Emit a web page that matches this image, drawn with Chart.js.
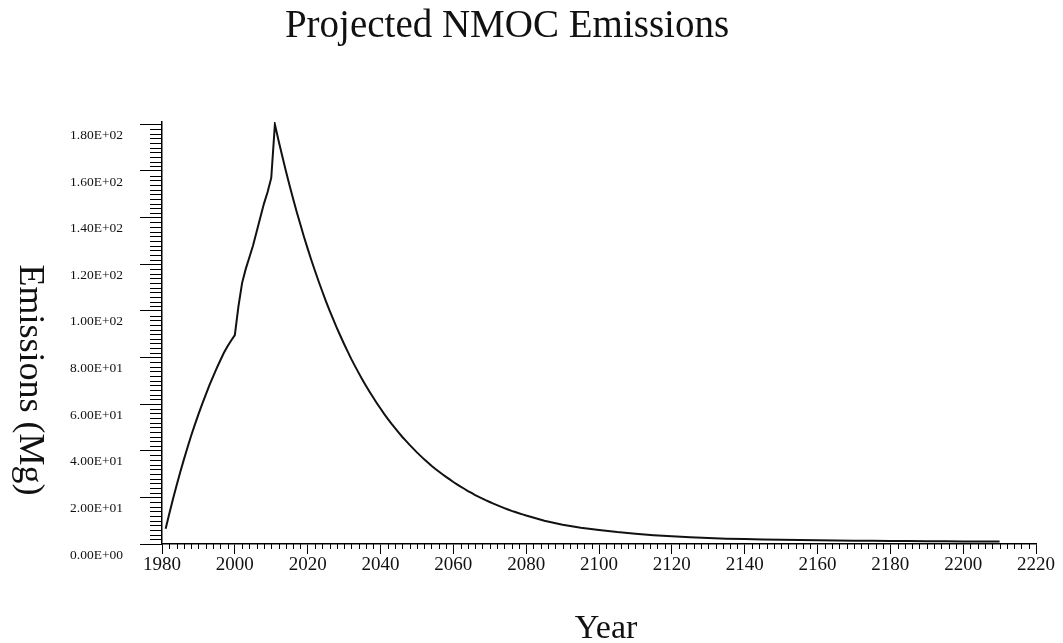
<!DOCTYPE html>
<html>
<head>
<meta charset="utf-8">
<script src="https://cdn.jsdelivr.net/npm/chart.js@4/dist/chart.umd.min.js"></script>
<style>
  html, body { margin: 0; padding: 0; background: #ffffff; }
  #wrap { width: 1063px; height: 643px; }
</style>
</head>
<body>
<div id="wrap"><canvas id="chart" width="1063" height="643"></canvas></div>
<script>
// Headings
const chartTitle = 'Projected NMOC Emissions';
const xAxisTitle = 'Year';
const yAxisTitle = 'Emissions (Mg)';

// Years with a projected value
const years = [
  1981, 1982, 1983, 1984, 1985, 1986, 1987, 1988, 1989, 1990,
  1991, 1992, 1993, 1994, 1995, 1996, 1997, 1998, 1999, 2000,
  2001, 2002, 2003, 2004, 2005, 2006, 2007, 2008, 2009, 2010,
  2011, 2012, 2013, 2014, 2015, 2016, 2017, 2018, 2019, 2020,
  2021, 2022, 2023, 2024, 2025, 2026, 2027, 2028, 2029, 2030,
  2031, 2032, 2033, 2034, 2035, 2036, 2037, 2038, 2039, 2040,
  2041, 2042, 2043, 2044, 2045, 2046, 2047, 2048, 2049, 2050,
  2051, 2052, 2053, 2054, 2055, 2056, 2057, 2058, 2059, 2060,
  2061, 2062, 2063, 2064, 2065, 2066, 2067, 2068, 2069, 2070,
  2071, 2072, 2073, 2074, 2075, 2076, 2077, 2078, 2079, 2080,
  2085, 2090, 2095, 2100, 2105, 2110, 2115, 2120, 2125, 2130,
  2135, 2140, 2145, 2150, 2155, 2160, 2165, 2170, 2175, 2180,
  2185, 2190, 2195, 2200, 2205, 2210
];

// NMOC emissions in Mg per year
const emissions = [
  6.5, 13.0, 19.2, 25.1, 30.8, 36.2, 41.4, 46.4, 51.1, 55.6,
  59.9, 64.0, 68.0, 71.7, 75.3, 78.7, 82.0, 84.8, 87.3, 89.6,
  102.0, 112.0, 118.0, 123.0, 128.0, 134.0, 140.0, 146.0, 151.0, 157.0,
  180.0, 173.1, 166.5, 160.1, 154.0, 148.1, 142.4, 137.0, 131.7, 126.7,
  121.8, 117.2, 112.7, 108.4, 104.2, 100.2, 96.4, 92.7, 89.2, 85.8,
  82.5, 79.3, 76.3, 73.4, 70.6, 67.9, 65.3, 62.8, 60.4, 58.1,
  55.8, 53.7, 51.6, 49.7, 47.8, 45.9, 44.2, 42.5, 40.9, 39.3,
  37.8, 36.3, 35.0, 33.6, 32.3, 31.1, 29.9, 28.8, 27.7, 26.6,
  25.6, 24.6, 23.7, 22.7, 21.9, 21.0, 20.2, 19.5, 18.7, 18.0,
  17.3, 16.7, 16.0, 15.4, 14.8, 14.2, 13.7, 13.2, 12.7, 12.2,
  10.0, 8.3, 7.0, 6.0, 5.1, 4.4, 3.8, 3.3, 2.9, 2.6,
  2.3, 2.1, 1.9, 1.8, 1.7, 1.6, 1.5, 1.4, 1.4, 1.3,
  1.3, 1.2, 1.2, 1.1, 1.1, 1.1
];

// Labelled (major) tick values
const xTickValues = [1980, 2000, 2020, 2040, 2060, 2080, 2100, 2120, 2140, 2160, 2180, 2200, 2220];
const yTickValues = [0, 20, 40, 60, 80, 100, 120, 140, 160, 180];

// Spacing of the unlabelled minor ticks
const xMinorStep = 2;
const yMinorStep = 2;

const xMin = 1980, xMax = 2220;
const yMin = 0, yMax = 181;

function sci(v) {
  const parts = v.toExponential(2).split('e');
  const e = parseInt(parts[1], 10);
  return parts[0] + 'E' + (e < 0 ? '-' : '+') + String(Math.abs(e)).padStart(2, '0');
}

// Short unlabelled ticks between the labelled ones
const minorTicks = {
  id: 'minorTicks',
  afterDraw(chart) {
    const { ctx, chartArea } = chart;
    const xs = chart.scales.x, ys = chart.scales.y;
    ctx.save();
    ctx.strokeStyle = '#000';
    ctx.lineWidth = 1;
    ctx.beginPath();
    for (let v = yMin; v <= 180; v += yMinorStep) {
      if (yTickValues.includes(v)) continue;
      const py = Math.round(ys.getPixelForValue(v)) + 0.5;
      ctx.moveTo(chartArea.left - 12, py);
      ctx.lineTo(chartArea.left, py);
    }
    for (let v = xMin; v <= xMax; v += xMinorStep) {
      if (xTickValues.includes(v)) continue;
      const px = Math.round(xs.getPixelForValue(v)) + 0.5;
      ctx.moveTo(px, chartArea.bottom);
      ctx.lineTo(px, chartArea.bottom + 5);
    }
    ctx.stroke();
    ctx.restore();
  }
};

// Chart heading and axis titles
const headings = {
  id: 'headings',
  afterDraw(chart) {
    const ctx = chart.ctx;
    ctx.save();
    ctx.fillStyle = '#111';
    ctx.textAlign = 'center';
    ctx.textBaseline = 'middle';
    ctx.font = '39px "Liberation Serif", "Times New Roman", serif';
    ctx.fillText(chartTitle, 507, 27);
    ctx.font = '34px "Liberation Serif", "Times New Roman", serif';
    ctx.fillText(xAxisTitle, 606, 629);
    ctx.translate(29, 380);
    ctx.rotate(Math.PI / 2);
    ctx.font = '36px "Liberation Serif", "Times New Roman", serif';
    ctx.fillText(yAxisTitle, 0, 0);
    ctx.restore();
  }
};

new Chart(document.getElementById('chart'), {
  type: 'line',
  data: {
    datasets: [{
      label: 'NMOC',
      data: years.map((y, i) => ({ x: y, y: emissions[i] })),
      borderColor: '#111',
      borderWidth: 2,
      pointRadius: 0,
      tension: 0,
      fill: false
    }]
  },
  options: {
    responsive: false,
    animation: false,
    layout: { padding: { top: 122, right: 27, left: 0, bottom: 0 } },
    plugins: {
      legend: { display: false },
      title: { display: false },
      tooltip: { enabled: false }
    },
    scales: {
      x: {
        type: 'linear',
        min: xMin,
        max: xMax,
        afterBuildTicks(scale) { scale.ticks = xTickValues.map(v => ({ value: v })); },
        afterFit(scale) { scale.height = 99; },
        border: { display: true, color: '#000', width: 1.5 },
        grid: { drawOnChartArea: false, drawTicks: true, tickLength: 10, color: '#000', lineWidth: 1 },
        ticks: {
          padding: 0,
          maxRotation: 0,
          autoSkip: false,
          color: '#111',
          font: { family: '"Liberation Serif", "Times New Roman", serif', size: 19 },
          callback: v => String(v)
        }
      },
      y: {
        type: 'linear',
        min: yMin,
        max: yMax,
        afterBuildTicks(scale) { scale.ticks = yTickValues.map(v => ({ value: v })); },
        afterFit(scale) { scale.width = 162; },
        border: { display: true, color: '#000', width: 1.5 },
        grid: { drawOnChartArea: false, drawTicks: true, tickLength: 22, color: '#000', lineWidth: 1 },
        ticks: {
          padding: 17,
          labelOffset: 11,
          autoSkip: false,
          color: '#111',
          font: { family: '"Liberation Serif", "Times New Roman", serif', size: 13.5 },
          callback: v => sci(v)
        }
      }
    }
  },
  plugins: [minorTicks, headings]
});
</script>
</body>
</html>
